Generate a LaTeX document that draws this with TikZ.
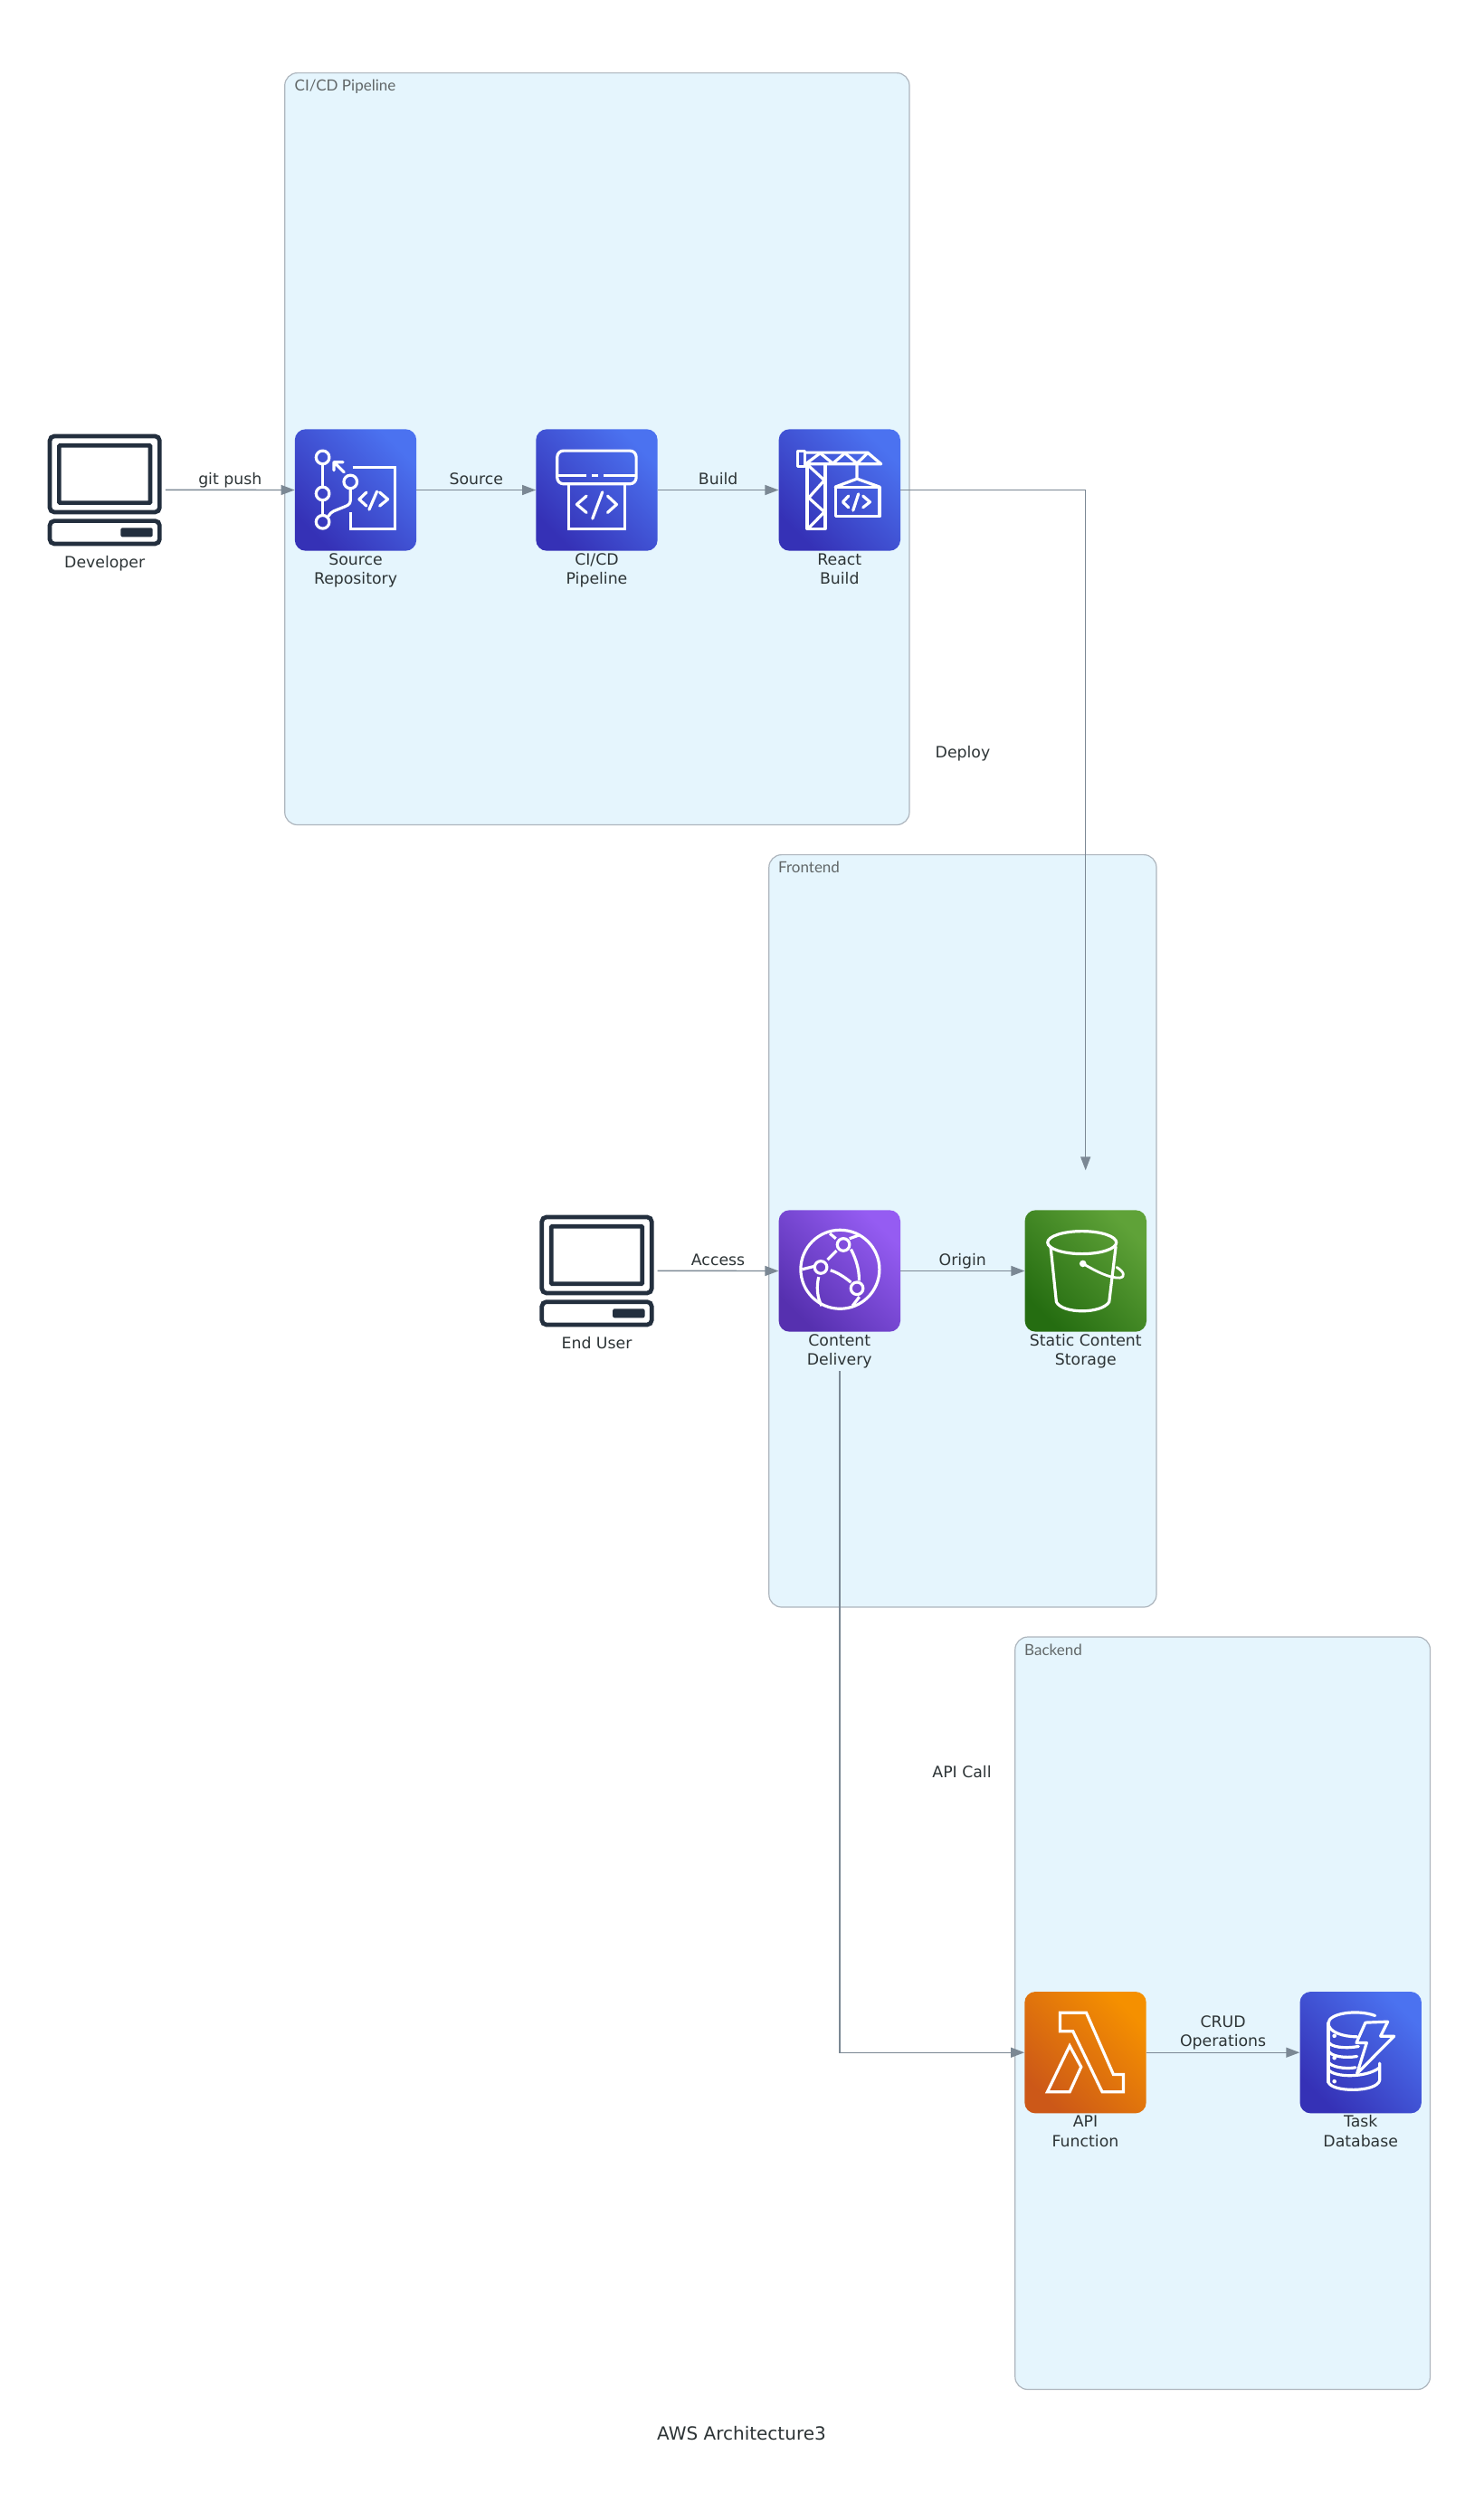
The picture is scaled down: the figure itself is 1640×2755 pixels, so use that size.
\documentclass[tikz,border=0pt]{standalone}
\usepackage{fontspec}
\setmainfont{DejaVu Sans}
\newfontfamily\clusterfont{Lato}
\usetikzlibrary{arrows.meta,calc}
\definecolor{edgec}{HTML}{7B8894}
\definecolor{clbg}{HTML}{E5F5FD}
\definecolor{clbd}{HTML}{AEB6BE}
\definecolor{txt}{HTML}{2D3436}
\definecolor{clientc}{HTML}{232F3E}
\definecolor{bluea}{HTML}{3531B6}\definecolor{blueb}{HTML}{4B72F0}
\definecolor{purpa}{HTML}{5630AF}\definecolor{purpb}{HTML}{955CF2}
\definecolor{greena}{HTML}{256D11}\definecolor{greenb}{HTML}{5FA238}
\definecolor{oranga}{HTML}{CC5818}\definecolor{orangb}{HTML}{F59000}
\tikzset{
  cluster/.style={draw=clbd,fill=clbg,line width=1.2pt,rounded corners=14pt},
  cltext/.style={text=txt!75,anchor=base west,inner sep=0pt,font=\clusterfont\fontsize{17}{20}\selectfont},
  tile/.style n args={2}{rectangle,rounded corners=12pt,minimum size=134.4pt,inner sep=0pt,
     bottom color=#1,top color=#2,shading angle=-45},
  holder/.style={rectangle,minimum size=134pt,inner sep=0pt},
  lbl/.style={text=txt,align=center,inner sep=0pt,anchor=center,font=\fontsize{17.3}{21.7}\selectfont},
  lbone/.style={text=txt,inner sep=0pt,anchor=base,font=\fontsize{17.3}{21.7}\selectfont},
  elbl/.style={lbone,yshift=5.8pt},
  conn/.style={draw=edgec,line width=1.4pt,-{Triangle[length=15pt,width=11pt]}},
  ico/.style={draw=white,line width=3.2pt,line join=round,line cap=round},
  cli/.style={draw=clientc,line width=4.7pt,rounded corners=5pt},
}
\newcommand{\clienticon}[1]{%
  \begin{scope}[shift={(#1.center)},x=.33333pt,y=-.33333pt,shift={(-257,-304)}]
    \draw[cli] (75,126) rectangle (439,378);
    \draw[cli,rounded corners=1pt] (106,157) rectangle (408,347);
    \draw[cli] (75,407) rectangle (439,483);
    \fill[clientc,rounded corners=2pt] (310,430) rectangle (416,460);
  \end{scope}}
\newcommand{\iconscope}[2]{%
  \begin{scope}[shift={(#1.north west)},x=.33333pt,y=-.33333pt,shift={#2}]}
\begin{document}
\begin{tikzpicture}[x=1pt,y=-1pt]
\useasboundingbox (0,0) rectangle (1640,2755);
\fill[white] (0,0) rectangle (1640,2755);
% clusters
\path[cluster] (314.7,80.6) rectangle (1005,911.5);
\path[cluster] (849.8,944.6) rectangle (1278,1776);
\path[cluster] (1121.8,1809) rectangle (1580.5,2640.5);
\node[cltext] (clA) at (325.5,100.5) {CI/CD Pipeline};
\node[cltext] (clB) at (860,964.8) {Frontend};
\node[cltext] (clC) at (1132,1829.3) {Backend};
% holders and tiles
\node[holder] (dev) at (115.7,541.3) {};
\node[tile={bluea}{blueb}] (src) at (393,541.5) {};
\node[tile={bluea}{blueb}] (pipe) at (659.5,541.5) {};
\node[tile={bluea}{blueb}] (build) at (927.8,541.5) {};
\node[holder] (user) at (659.5,1404.3) {};
\node[tile={purpa}{purpb}] (cdn) at (927.8,1404.5) {};
\node[tile={greena}{greenb}] (s3) at (1199.8,1404.5) {};
\node[tile={oranga}{orangb}] (fn) at (1199.5,2268.2) {};
\node[tile={bluea}{blueb}] (db) at (1503.7,2268.2) {};
% icons
\clienticon{dev}
\clienticon{user}
\iconscope{src}{(-888,-103)}
  \draw[ico] (981,197) circle[radius=7.3pt] (981,317) circle[radius=7.3pt] (981,411) circle[radius=7.3pt] (1073,278) circle[radius=7.3pt];
  \draw[ico] (981,220)--(981,295) (981,340)--(981,389);
  \draw[ico] (1073,300)--(1073,340) .. controls (1073,355) and (1060,358) .. (1040,366) -- (1018,375) .. controls (1010,379) and (1004,384) .. (1000,392);
  \draw[ico] (1052,246)--(1018,213) (1018,240)--(1018,213)--(1048,213);
  \draw[ico,line cap=butt,line join=miter] (1080,230)--(1220,230)--(1220,435)--(1073,435)--(1073,378);
  \draw[ico] (1126,313)--(1102,336)--(1126,358) (1161,310)--(1135,370) (1170,313)--(1197,336)--(1170,358);
\end{scope}
\iconscope{pipe}{(-97,-103)}
  \draw[ico,rounded corners=7pt] (168,175) rectangle (430,285);
  \draw[ico,line cap=butt] (168,257)--(265,257) (283,257)--(303,257) (322,257)--(430,257);
  \draw[ico,line cap=butt,line join=miter] (206,285)--(206,435)--(392,435)--(392,285);
  \draw[ico] (265,325)--(233,353)--(265,380) (318,312)--(285,400) (335,325)--(365,353)--(335,380);
\end{scope}
\iconscope{build}{(0,0)}
  \draw[ico] (63,72) rectangle (88,125);
  \draw[ico] (88,78)--(295,78)--(340,116)--(88,116);
  \draw[ico] (95,112)--(138,80)--(180,114)--(220,80)--(260,114)--(295,80);
  \draw[ico] (95,116)--(95,330)--(155,330)--(155,116);
  \draw[ico] (100,122)--(152,170)--(100,228)--(152,275)--(100,328);
  \draw[ico] (260,116)--(260,165) (188,192)--(260,165)--(335,192);
  \draw[ico] (190,192) rectangle (335,290);
  \draw[ico] (232,222)--(213,242)--(232,260) (265,215)--(247,270) (280,222)--(303,242)--(280,260);
\end{scope}
\iconscope{cdn}{(0,0)}
  \draw[ico] (204,197) circle[radius=43.5pt];
  \draw[ico] (215,115) circle[radius=6.8pt] (140,190) circle[radius=6.8pt] (260,260) circle[radius=6.8pt];
  \draw[ico,line cap=butt] (162,165)--(192,135);
  \draw[ico,line cap=butt] (172,200) .. controls (198,208) and (222,225) .. (240,240);
  \draw[ico,line cap=butt] (240,130) .. controls (258,165) and (268,200) .. (267,235);
  \draw[ico,line cap=butt] (133,222) .. controls (125,255) and (128,290) .. (143,318);
  \draw[ico,line cap=butt] (78,197)--(118,187) (170,78)--(190,95) (235,95)--(268,83) (245,318)--(268,288);
\end{scope}
\iconscope{s3}{(0,0)}
  \draw[ico] (190,108) ellipse[x radius=38pt,y radius=12.5pt];
  \draw[ico] (86,122)--(105,305) .. controls (125,345) and (255,345) .. (280,305)--(302,122);
  \fill[white] (193,178) circle[radius=3.8pt];
  \draw[ico,line width=2.8pt] (193,178) .. controls (240,205) and (280,226) .. (315,225) .. controls (335,222) and (330,205) .. (305,190);
\end{scope}
\iconscope{fn}{(-67,-63)}
  \draw[ico,line join=miter,line cap=butt] (185,133)--(272,133)--(362,338)--(395,338)--(395,396)--(325,396)--(228,195)--(185,195)--cycle;
  \draw[ico,line join=miter,line cap=butt] (217,243)--(255,313)--(217,396)--(143,396)--cycle;
\end{scope}
\iconscope{db}{(0,0)}
  \draw[ico] (250,80) .. controls (190,58) and (95,72) .. (95,105) .. controls (95,135) and (145,150) .. (190,150);
  \draw[ico] (95,105)--(95,300);
  \draw[ico] (95,165) .. controls (100,185) and (150,190) .. (195,182);
  \draw[ico] (95,195) .. controls (100,215) and (150,222) .. (190,215);
  \draw[ico] (95,232) .. controls (100,250) and (150,258) .. (185,252);
  \draw[ico] (95,258) .. controls (110,285) and (220,288) .. (265,252);
  \draw[ico] (265,238)--(265,295) .. controls (255,335) and (105,335) .. (95,300);
  \fill[white] (115,147) circle[radius=2.3pt] (115,220) circle[radius=2.3pt] (115,298) circle[radius=2.3pt];
  \draw[ico] (218,103)--(292,100)--(268,148)--(313,148)--(190,272)--(222,170)--(188,170)--cycle;
\end{scope}
% node labels
\node[lbone] (ldev) at (115.7,627.7) {Developer};
\node[lbl] (lsrc) at ($(src.south)+(0,21.8)$) {\strut Source\\\strut Repository};
\node[lbl] (lpipe) at ($(pipe.south)+(0,21.8)$) {\strut CI/CD\\\strut Pipeline};
\node[lbl] (lbuild) at ($(build.south)+(0,21.8)$) {\strut React\\\strut Build};
\node[lbone] (luser) at (659.5,1490) {End User};
\node[lbl] (lcdn) at ($(cdn.south)+(0,21.8)$) {\strut Content\\\strut Delivery};
\node[lbl] (ls3) at ($(s3.south)+(0,21.8)$) {\strut Static Content\\\strut Storage};
\node[lbl] (lfn) at ($(fn.south)+(0,21.8)$) {\strut API\\\strut Function};
\node[lbl] (ldb) at ($(db.south)+(0,21.8)$) {\strut Task\\\strut Database};
\node[lbone] (ldeploy) at (1064,837.5) {Deploy};
\node[lbone] (lapi) at (1063,1964.5) {API Call};
\node[lbone,font=\fontsize{20}{24}\selectfont] (title) at (819.5,2696) {AWS Architecture3};
% free ends
\coordinate (s3in) at (1199.7,1293.3);
\coordinate (cdnout) at (927.8,1515);
% connectors
\draw[conn] (dev.east) -- node[elbl,midway]{git push} (src.west);
\draw[conn] (src.east) -- node[elbl,midway]{Source} (pipe.west);
\draw[conn] (pipe.east) -- node[elbl,midway]{Build} (build.west);
\draw[conn] (build.east) -| (s3in);
\draw[conn] (user.east) -- node[elbl,midway]{Access} (cdn.west);
\draw[conn] (cdn.east) -- node[elbl,midway]{Origin} (s3.west);
\draw[conn] (cdnout) |- (fn.west);
\draw[conn] (fn.east) -- node[lbl,midway,yshift=21.7pt]{\strut CRUD\\\strut Operations} (db.west);
\end{tikzpicture}
\end{document}
